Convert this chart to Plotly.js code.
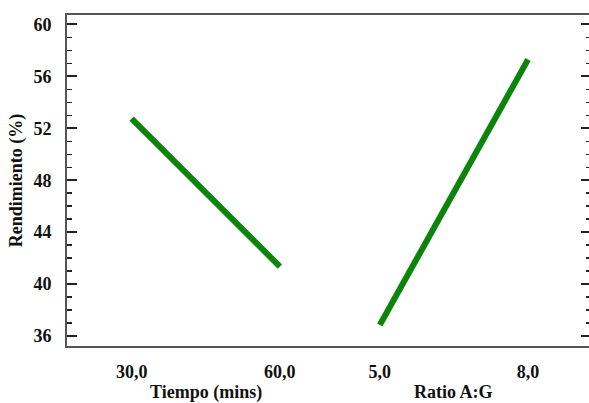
<!DOCTYPE html>
<html>
<head>
<meta charset="utf-8">
<script src="https://cdn.plot.ly/plotly-3.0.1.min.js"></script>
<style>html,body{margin:0;padding:0;overflow:hidden;background:#fff;width:589px;height:403px;}</style>
</head>
<body>
<div id="chart" style="width:592px;height:403px;"></div>
<script>
// Factors and their levels (main effects)
const factorNames = ["Tiempo (mins)", "Ratio A:G"];
const tiempoLevels = [30, 60];
const tiempoRend = [52.75, 41.35];
const ratioLevels = [5, 8];
const ratioRend = [36.85, 57.3];

const factors = [
  {name: factorNames[0], levels: tiempoLevels, values: tiempoRend},
  {name: factorNames[1], levels: ratioLevels, values: ratioRend}
];

const slot = 1.674; // spacing between factor panels
const fmt = v => v.toFixed(1).replace(".", ",");
const FONT = "'Liberation Serif', 'Times New Roman', serif";

const traces = [];
const tickvals = [], ticktext = [], annotations = [];
factors.forEach((f, i) => {
  const start = i * slot;
  const xs = f.levels.map((lv, j) => start + j);
  traces.push({
    x: xs, y: f.values, mode: "lines", type: "scatter",
    line: {color: "#0a850a", width: 6},
    hoverinfo: "skip", showlegend: false
  });
  f.levels.forEach((lv, j) => { tickvals.push(xs[j]); ticktext.push(fmt(lv)); });
  annotations.push({
    x: start + 0.5, xref: "x", y: 0, yref: "paper", yshift: -46,
    text: "<b>" + f.name + "</b>", showarrow: false,
    font: {family: FONT, size: 18, color: "#111"},
    xanchor: "center", yanchor: "middle"
  });
});

const layout = {
  width: 592, height: 403, autosize: false,
  margin: {l: 67, r: 1, t: 15, b: 57},
  paper_bgcolor: "#fff", plot_bgcolor: "#fff",
  font: {family: FONT, size: 18, color: "#111"},
  xaxis: {
    range: [-0.436, 3.099], tickvals: tickvals, ticktext: ticktext.map(t => "<b>" + t + "</b>"),
    showgrid: false, zeroline: false, ticks: "", showline: true, linecolor: "#555", linewidth: 2,
    mirror: true, ticklabelstandoff: 8
  },
  yaxis: {
    range: [35.23, 60.73], tickvals: [36, 40, 44, 48, 52, 56, 60],
    ticktext: ["36","40","44","48","52","56","60"].map(t => "<b>" + t + "</b>"),
    showgrid: false, zeroline: false, ticks: "inside", ticklen: 10, tickwidth: 2, tickcolor: "#222",
    showline: true, linecolor: "#555", linewidth: 2, mirror: "ticks",
    minor: {dtick: 1, ticks: "inside", ticklen: 5, tickwidth: 1.5, tickcolor: "#222"},
    ticklabelstandoff: 10,
    title: {text: "<b>Rendimiento (%)</b>", font: {family: FONT, size: 18, color: "#111"}, standoff: 6}
  },
  annotations: annotations
};

Plotly.newPlot("chart", traces, layout, {staticPlot: true, displayModeBar: false});
</script>
</body>
</html>
